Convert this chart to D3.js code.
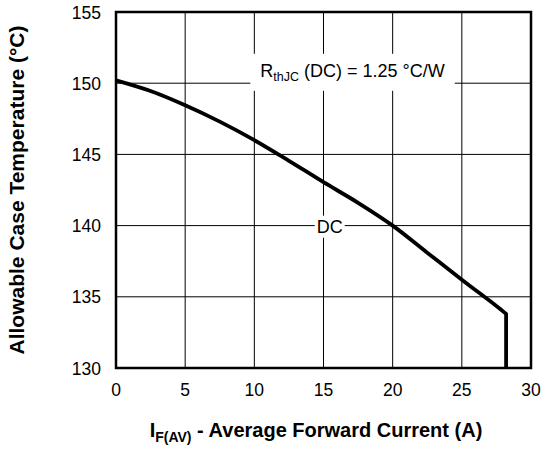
<!DOCTYPE html>
<html>
<head>
<meta charset="utf-8">
<script src="https://cdn.jsdelivr.net/npm/d3@7"></script>
<style>
  body { margin: 0; background: #fff; }
  text { font-family: "Liberation Sans", Arial, Helvetica, sans-serif; fill: #000; }
</style>
</head>
<body>
<div id="chart"></div>
<script>
// values
const xTicks = [0, 5, 10, 15, 20, 25, 30];
const yTicks = [130, 135, 140, 145, 150, 155];
const currentA = [0, 2.5, 5, 7.5, 10, 12.5, 15, 17.5, 20, 22.5, 25, 27.5, 28.2];
const caseTempC = [150.2, 149.45, 148.45, 147.3, 146.0, 144.55, 143.05, 141.6, 140.0, 138.1, 136.2, 134.35, 133.8];
const cutoffA = 28.2;   // curve drops straight down here
const rthLabel = { x: 17.1, y: 150.45 };
const dcLabel = { x: 15.45, y: 140 };

const width = 542, height = 449;
const plot = { left: 116, right: 531, top: 12, bottom: 368 };

const svg = d3.select('#chart')
    .append('svg')
        .attr("width", width)
        .attr("height", height)
        .attr("viewBox", `0 0 ${width} ${height}`);

const xScale = d3.scaleLinear()
    .domain([0, 30])
    .range([plot.left, plot.right]);

const yScale = d3.scaleLinear()
    .domain([130, 155])
    .range([plot.bottom, plot.top]);

// grid
svg.append("g")
    .selectAll("line")
    .data(xTicks.slice(1, -1))
    .join("line")
        .attr("x1", d => xScale(d)).attr("x2", d => xScale(d))
        .attr("y1", plot.top).attr("y2", plot.bottom)
        .attr("stroke", "#000").attr("stroke-width", 1);

svg.append("g")
    .selectAll("line")
    .data(yTicks.slice(1, -1))
    .join("line")
        .attr("y1", d => yScale(d)).attr("y2", d => yScale(d))
        .attr("x1", plot.left).attr("x2", plot.right)
        .attr("stroke", "#000").attr("stroke-width", 1);

// tick labels
svg.append("g")
    .selectAll("text")
    .data(xTicks)
    .join("text")
        .attr("x", d => xScale(d))
        .attr("y", plot.bottom + 28)
        .attr("text-anchor", "middle")
        .attr("font-size", 17.5)
        .text(d => d);

svg.append("g")
    .selectAll("text")
    .data(yTicks)
    .join("text")
        .attr("x", plot.left - 15)
        .attr("y", d => yScale(d) + 6.5)
        .attr("text-anchor", "end")
        .attr("font-size", 17.5)
        .text(d => d);

// in-plot labels on white boxes
const addLabel = (pos, build, padX, padY) => {
    const g = svg.append("g");
    const bg = g.append("rect").attr("fill", "#fff");
    const t = g.append("text")
        .attr("x", xScale(pos.x))
        .attr("y", yScale(pos.y))
        .attr("text-anchor", "middle")
        .attr("font-size", 18);
    build(t);
    const b = t.node().getBBox();
    bg.attr("x", b.x - padX).attr("y", b.y - padY)
      .attr("width", b.width + 2 * padX).attr("height", b.height + 2 * padY);
};

addLabel(rthLabel, t => {
    t.append("tspan").text("R");
    t.append("tspan").attr("font-size", 12.5).attr("dy", 4).text("thJC");
    t.append("tspan").attr("dy", -4).text(" (DC) = 1.25 °C/W");
}, 10, 7);

addLabel({ x: dcLabel.x, y: dcLabel.y - 0.5 }, t => {
    t.text("DC");
}, 2, 1);

// curve
const line = d3.line()
    .x(d => xScale(d[0]))
    .y(d => yScale(d[1]))
    .curve(d3.curveCatmullRom);

const pts = currentA.map((c, i) => [c, caseTempC[i]]);
svg.append("path")
    .attr("d", line(pts) + `L${xScale(cutoffA)},${yScale(130)}`)
    .attr("fill", "none")
    .attr("stroke", "#000")
    .attr("stroke-width", 3.8)
    .attr("stroke-linejoin", "miter");

// frame
svg.append("rect")
    .attr("x", plot.left).attr("y", plot.top)
    .attr("width", plot.right - plot.left)
    .attr("height", plot.bottom - plot.top)
    .attr("fill", "none")
    .attr("stroke", "#000")
    .attr("stroke-width", 2.5);

// axis titles
const xt = svg.append("text")
    .attr("x", 316)
    .attr("y", 437)
    .attr("text-anchor", "middle")
    .attr("font-size", 20)
    .attr("font-weight", "bold");
xt.append("tspan").text("I");
xt.append("tspan").attr("font-size", 14).attr("dy", 5).text("F(AV)");
xt.append("tspan").attr("dy", -5).text(" - Average Forward Current (A)");

svg.append("text")
    .attr("transform", `translate(24, ${(plot.top + plot.bottom) / 2}) rotate(-90)`)
    .attr("text-anchor", "middle")
    .attr("font-size", 21)
    .attr("font-weight", "bold")
    .text("Allowable Case Temperature (°C)");
</script>
</body>
</html>
